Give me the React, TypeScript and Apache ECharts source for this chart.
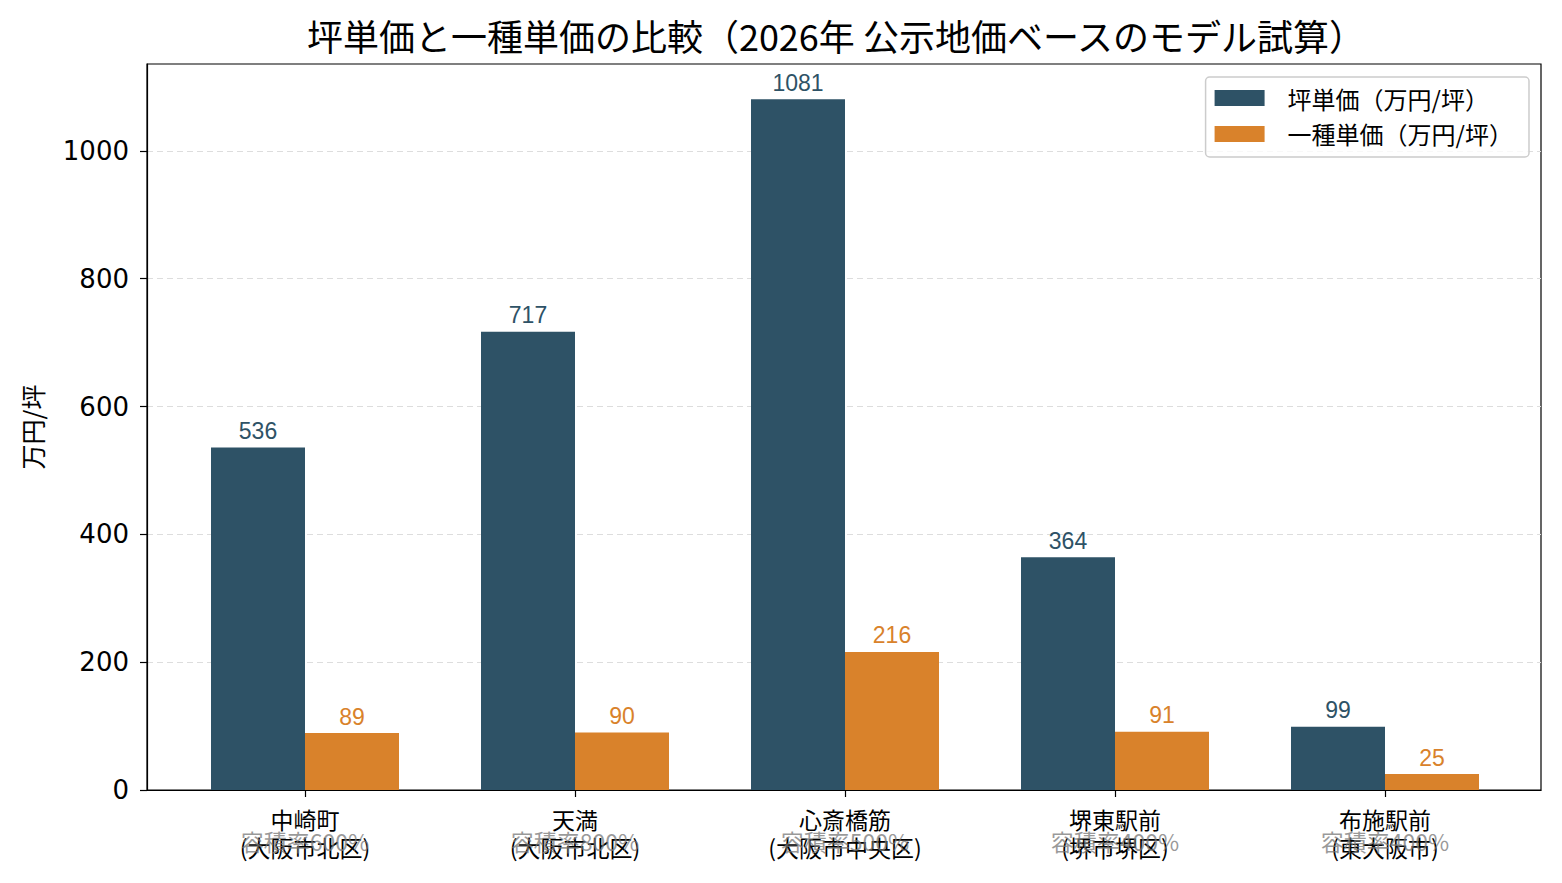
import React, { useRef, useEffect } from 'react';
import * as echarts from 'echarts';

const areas = ['中崎町\n(大阪市北区)', '天満\n(大阪市北区)', '心斎橋筋\n(大阪市中央区)', '堺東駅前\n(堺市堺区)', '布施駅前\n(東大阪市)'];
const ratios = ['容積率600%', '容積率800%', '容積率500%', '容積率400%', '容積率400%'];
const tsuboPrice = [536, 717, 1081, 364, 99];
const unitPrice = [89, 90, 216, 91, 25];
const yTicks = [0, 200, 400, 600, 800, 1000];

const FONT = '"Noto Sans CJK JP", "Noto Sans", sans-serif';
const NUM_FONT = '"Liberation Sans", Arial, sans-serif';
const DARK = '#2e5266';
const ORANGE = '#d9822b';

const App: React.FC = () => {
  const chartRef = useRef<HTMLDivElement>(null);

  useEffect(() => {
    document.body.style.margin = '0';
    if (!chartRef.current) return;
    const chart = echarts.init(chartRef.current, undefined, { renderer: 'svg' });

    const option: echarts.EChartsOption = {
      animation: false,
      textStyle: { fontFamily: FONT },
      graphic: [
        {
          type: 'text',
          x: 836,
          y: 35,
          style: {
            text: '坪単価と一種単価の比較（2026年 公示地価ベースのモデル試算）',
            fontSize: 36,
            fontFamily: FONT,
            fill: '#000',
            align: 'center',
            verticalAlign: 'middle',
          },
        },
      ],
      legend: {
        orient: 'vertical',
        right: 33,
        top: 77,
        padding: [9, 16, 11, 9],
        itemWidth: 50,
        itemHeight: 16,
        itemGap: 12,
        icon: 'rect',
        borderColor: '#cccccc',
        borderWidth: 1.5,
        borderRadius: 4,
        backgroundColor: 'rgba(255,255,255,0.8)',
        textStyle: { fontSize: 24, fontFamily: FONT, color: '#000', padding: [0, 0, 0, 18] },
        data: ['坪単価（万円/坪）', '一種単価（万円/坪）'],
      },
      grid: [
        { left: 147, top: 64, width: 1394, height: 726, show: true, borderColor: '#000', borderWidth: 1.2, backgroundColor: 'transparent' },
        { left: 170, top: 64, width: 1350, height: 726 },
      ],
      xAxis: [
        {
          type: 'value',
          gridIndex: 0,
          min: 0,
          max: 1,
          axisLine: { show: true, lineStyle: { color: '#000', width: 1.2 } },
          axisTick: { show: false },
          axisLabel: { show: false },
          splitLine: { show: false },
        },
        {
          type: 'category',
          gridIndex: 1,
          data: areas,
          axisLine: { show: false },
          axisTick: { show: true, alignWithLabel: true, length: 7, inside: false, lineStyle: { color: '#000', width: 1.2 } },
          axisLabel: { color: '#000', fontSize: 23, lineHeight: 28, margin: 15, fontFamily: FONT },
        },
        {
          type: 'category',
          gridIndex: 1,
          position: 'bottom',
          offset: 0,
          data: ratios,
          axisLine: { show: false },
          axisTick: { show: false },
          axisLabel: { color: 'rgba(120,120,120,0.75)', fontSize: 23, margin: 39, fontFamily: FONT },
        },
      ],
      yAxis: [
        {
          type: 'value',
          gridIndex: 0,
          min: 0,
          max: 1136,
          name: '万円/坪',
          nameLocation: 'middle',
          nameGap: 103,
          nameRotate: 90,
          nameTextStyle: { fontSize: 25, color: '#000', fontFamily: FONT },
          axisLine: { show: true, lineStyle: { color: '#000', width: 1.2 } },
          axisTick: { show: true, length: 7, customValues: yTicks, lineStyle: { color: '#000', width: 1.2 } },
          axisLabel: {
            fontSize: 26,
            color: '#000',
            margin: 18,
            customValues: yTicks,
            fontFamily: '"DejaVu Sans", sans-serif',
            formatter: (v: number) => String(v),
          },
          splitLine: { show: true, showMinLine: false, lineStyle: { color: '#dddddd', type: [6, 4], width: 1.2 } },
        },
        { type: 'value', gridIndex: 1, min: 0, max: 1136, show: false },
      ],
      series: [
        {
          name: '坪単価（万円/坪）',
          type: 'bar',
          xAxisIndex: 1,
          yAxisIndex: 1,
          data: tsuboPrice,
          barWidth: 94,
          barGap: '0%',
          itemStyle: { color: DARK },
          label: { show: true, position: 'top', distance: 5, color: DARK, fontSize: 23, fontFamily: NUM_FONT },
        },
        {
          name: '一種単価（万円/坪）',
          type: 'bar',
          xAxisIndex: 1,
          yAxisIndex: 1,
          data: unitPrice,
          barWidth: 94,
          barGap: '0%',
          itemStyle: { color: ORANGE },
          label: { show: true, position: 'top', distance: 5, color: ORANGE, fontSize: 23, fontFamily: NUM_FONT },
        },
      ],
    };

    chart.setOption(option);
    return () => {
      chart.dispose();
    };
  }, []);

  return <div ref={chartRef} style={{ width: 1562, height: 883 }} />;
};

export default App;
